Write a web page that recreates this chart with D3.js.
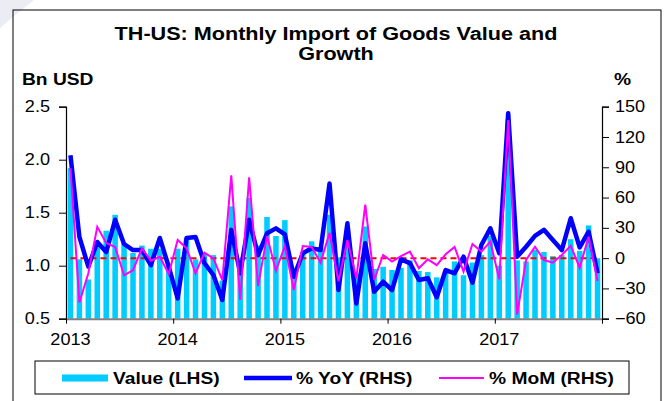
<!DOCTYPE html>
<html>
<head>
<meta charset="utf-8">
<script src="https://cdn.jsdelivr.net/npm/d3@7"></script>
<style>
  body { margin: 0; background: #fff; }
  svg text { font-family: "Liberation Sans", Arial, sans-serif; fill: #000; }
</style>
</head>
<body>
<div id="chart"></div>
<script>
const width = 669;
const height = 401;

// Jan 2013 .. Dec 2017
const years = ['2013', '2014', '2015', '2016', '2017'];
const months = d3.range(60);

// import value, bn USD (LHS)
const value = [1.92, 1.06, 0.87, 1.18, 1.33, 1.48, 1.21, 1.12, 1.19, 1.16, 1.16, 0.99,
  1.16, 1.26, 1.06, 1.12, 1.10, 0.86, 1.56, 0.94, 1.64, 1.19, 1.46, 1.28,
  1.43, 0.97, 1.11, 1.23, 1.17, 1.48, 1.08, 1.26, 0.93, 1.37, 0.97, 0.99,
  0.96, 0.98, 1.05, 0.95, 0.94, 0.89, 0.95, 1.04, 0.91, 1.03, 1.10, 1.28,
  1.00, 2.38, 1.05, 1.04, 1.15, 1.13, 1.09, 1.10, 1.25, 1.14, 1.38, 1.07];

// % YoY (RHS)
const yoy = [102, 21, -8.5, 16, 6, 38, 14, 8, 8, -7, 20, -8.5,
  -40, 20, 21, -5, -16.7, -41.5, 28, -15, 38, 3, 24.6, 29.5,
  23.6, -18.4, 4.8, 9.7, 8, 74, -31.6, 34.5, -45, 14.7, -33.3, -23.4,
  -31.6, -1.2, -5, -21.7, -20, -38.8, -11.8, -15, 1.4, -24.3, 13, 29.5,
  4.8, 143.5, 1.4, 11.3, 22, 28, 18, 8, 39.5, 10.7, 26.2, -15];

// % MoM (RHS)
const mom = [89, -44, -15, 31, 15, 11, -17, -12, 9.7, -2.5, 1.4, -15.7,
  18, 9.7, -15, 5.4, -0.2, -21.7, 82, -41.5, 80, -27.6, 22, -12.4,
  12, -31.6, 12, 11, -4.5, 25, -23, 18, -20, 53, -21.7, 3.1,
  -3.5, 2, 6.4, -10, -1.2, -7, 3.8, 11, -13.4, 14, 6.4, 16.3,
  -21, 136.8, -56, -1.9, 11.3, -1.9, -4.5, 3.1, 12.3, -9.5, 21.2, -22.7];

const leftTicks = [0.5, 1.0, 1.5, 2.0, 2.5];
const rightTicks = [-60, -30, 0, 30, 60, 90, 120, 150];

const plot = { left: 66, right: 602, top: 106.7, bottom: 318.7 };

const svg = d3.select('#chart').append('svg')
  .attr('width', width)
  .attr('height', height);

// faint slide decoration top-left
svg.append('polygon')
  .attr('points', '0,0 34,0 14,16 0,28')
  .attr('fill', '#ececf5');

// outer frame
svg.append('rect')
  .attr('x', 13).attr('y', 10)
  .attr('width', 648).attr('height', 420)
  .attr('fill', 'none').attr('stroke', '#000').attr('stroke-width', 1);

const x = d3.scaleBand()
  .domain(months)
  .range([plot.left, plot.right])
  .paddingInner(0.38)
  .paddingOuter(0.19);

const xEdge = d3.scaleLinear().domain([0, 60]).range([plot.left, plot.right]);

const yL = d3.scaleLinear().domain([0.5, 2.5]).range([plot.bottom, plot.top]);
const yR = d3.scaleLinear().domain([-60, 150]).range([plot.bottom, plot.top]);

const cx = (i) => x(i) + x.bandwidth() / 2;

// bars
svg.append('g').selectAll('rect')
  .data(months)
  .join('rect')
  .attr('x', (i) => x(i))
  .attr('width', x.bandwidth())
  .attr('y', (i) => yL(value[i]))
  .attr('height', (i) => yL(0.5) - yL(value[i]))
  .attr('fill', '#00ccff');

// zero line on the RHS
svg.append('line')
  .attr('x1', cx(0)).attr('x2', cx(59))
  .attr('y1', yR(0)).attr('y2', yR(0))
  .attr('stroke', '#ff0000')
  .attr('stroke-width', 2)
  .attr('stroke-dasharray', '6,4');

const yoyLine = d3.line().x((i) => cx(i)).y((i) => yR(yoy[i]));
const momLine = d3.line().x((i) => cx(i)).y((i) => yR(mom[i]));

svg.append('path')
  .attr('d', yoyLine(months))
  .attr('fill', 'none')
  .attr('stroke', '#0000ff')
  .attr('stroke-width', 4.5)
  .attr('stroke-linejoin', 'round');

svg.append('path')
  .attr('d', momLine(months))
  .attr('fill', 'none')
  .attr('stroke', '#ff00ff')
  .attr('stroke-width', 2);

// axes
const leftAxis = svg.append('g')
  .attr('transform', `translate(${plot.left},0)`)
  .call(d3.axisLeft(yL).tickValues(leftTicks).tickFormat(d3.format('.1f')).tickSize(7).tickPadding(9));

const rightAxis = svg.append('g')
  .attr('transform', `translate(${plot.right},0)`)
  .call(d3.axisRight(yR).tickValues(rightTicks).tickSize(7).tickPadding(6));

[leftAxis, rightAxis].forEach((g) => {
  g.select('.domain').attr('stroke', '#000').attr('stroke-width', 1.2);
  g.selectAll('.tick line').attr('stroke', '#000');
  g.selectAll('text').attr('font-size', 16);
});

const bottomAxis = svg.append('g')
  .attr('transform', `translate(0,${plot.bottom})`)
  .call(d3.axisBottom(xEdge).tickValues([0, 12, 24, 36, 48, 60]).tickFormat('').tickSize(5).tickSizeOuter(0));
bottomAxis.select('.domain').attr('stroke', '#808080').attr('stroke-width', 2);
bottomAxis.selectAll('.tick line').attr('stroke', '#000');

svg.append('g').selectAll('text')
  .data(years)
  .join('text')
  .attr('x', (d, k) => cx(k * 12))
  .attr('y', 345)
  .attr('text-anchor', 'middle')
  .attr('font-size', 16)
  .text((d) => d);

// titles
svg.append('text')
  .attr('x', 336).attr('y', 40)
  .attr('text-anchor', 'middle')
  .attr('font-size', 18).attr('font-weight', 'bold')
  .text('TH-US: Monthly Import of Goods Value and');
svg.append('text')
  .attr('x', 336).attr('y', 60)
  .attr('text-anchor', 'middle')
  .attr('font-size', 18).attr('font-weight', 'bold')
  .text('Growth');

svg.append('text')
  .attr('x', 22).attr('y', 85)
  .attr('font-size', 16).attr('font-weight', 'bold')
  .text('Bn USD');
svg.append('text')
  .attr('x', 614).attr('y', 85)
  .attr('font-size', 16).attr('font-weight', 'bold')
  .text('%');

// legend
const legend = svg.append('g');
legend.append('rect')
  .attr('x', 35).attr('y', 361)
  .attr('width', 594).attr('height', 33)
  .attr('fill', '#fff').attr('stroke', '#000');

legend.append('rect')
  .attr('x', 62).attr('y', 374.5).attr('width', 46).attr('height', 7)
  .attr('fill', '#00ccff');
legend.append('line')
  .attr('x1', 244).attr('x2', 292).attr('y1', 378).attr('y2', 378)
  .attr('stroke', '#0000ff').attr('stroke-width', 4.5);
legend.append('line')
  .attr('x1', 439).attr('x2', 484).attr('y1', 378).attr('y2', 378)
  .attr('stroke', '#ff00ff').attr('stroke-width', 2);

const legendItems = [
  { label: 'Value (LHS)', x: 113 },
  { label: '% YoY (RHS)', x: 296 },
  { label: '% MoM (RHS)', x: 489 }
];
legend.selectAll('text.lg')
  .data(legendItems)
  .join('text')
  .attr('class', 'lg')
  .attr('x', (d) => d.x)
  .attr('y', 384)
  .attr('font-size', 16).attr('font-weight', 'bold')
  .text((d) => d.label);

// the reference is a bit wider than tall, stretch glyphs to match
svg.selectAll('text').each(function () {
  const w = this.getComputedTextLength();
  const k = +d3.select(this).attr('font-size') === 16 && d3.select(this).attr('font-weight') !== 'bold' ? 1.13 : 1.2;
  d3.select(this).attr('textLength', w * k).attr('lengthAdjust', 'spacingAndGlyphs');
});
</script>
</body>
</html>
